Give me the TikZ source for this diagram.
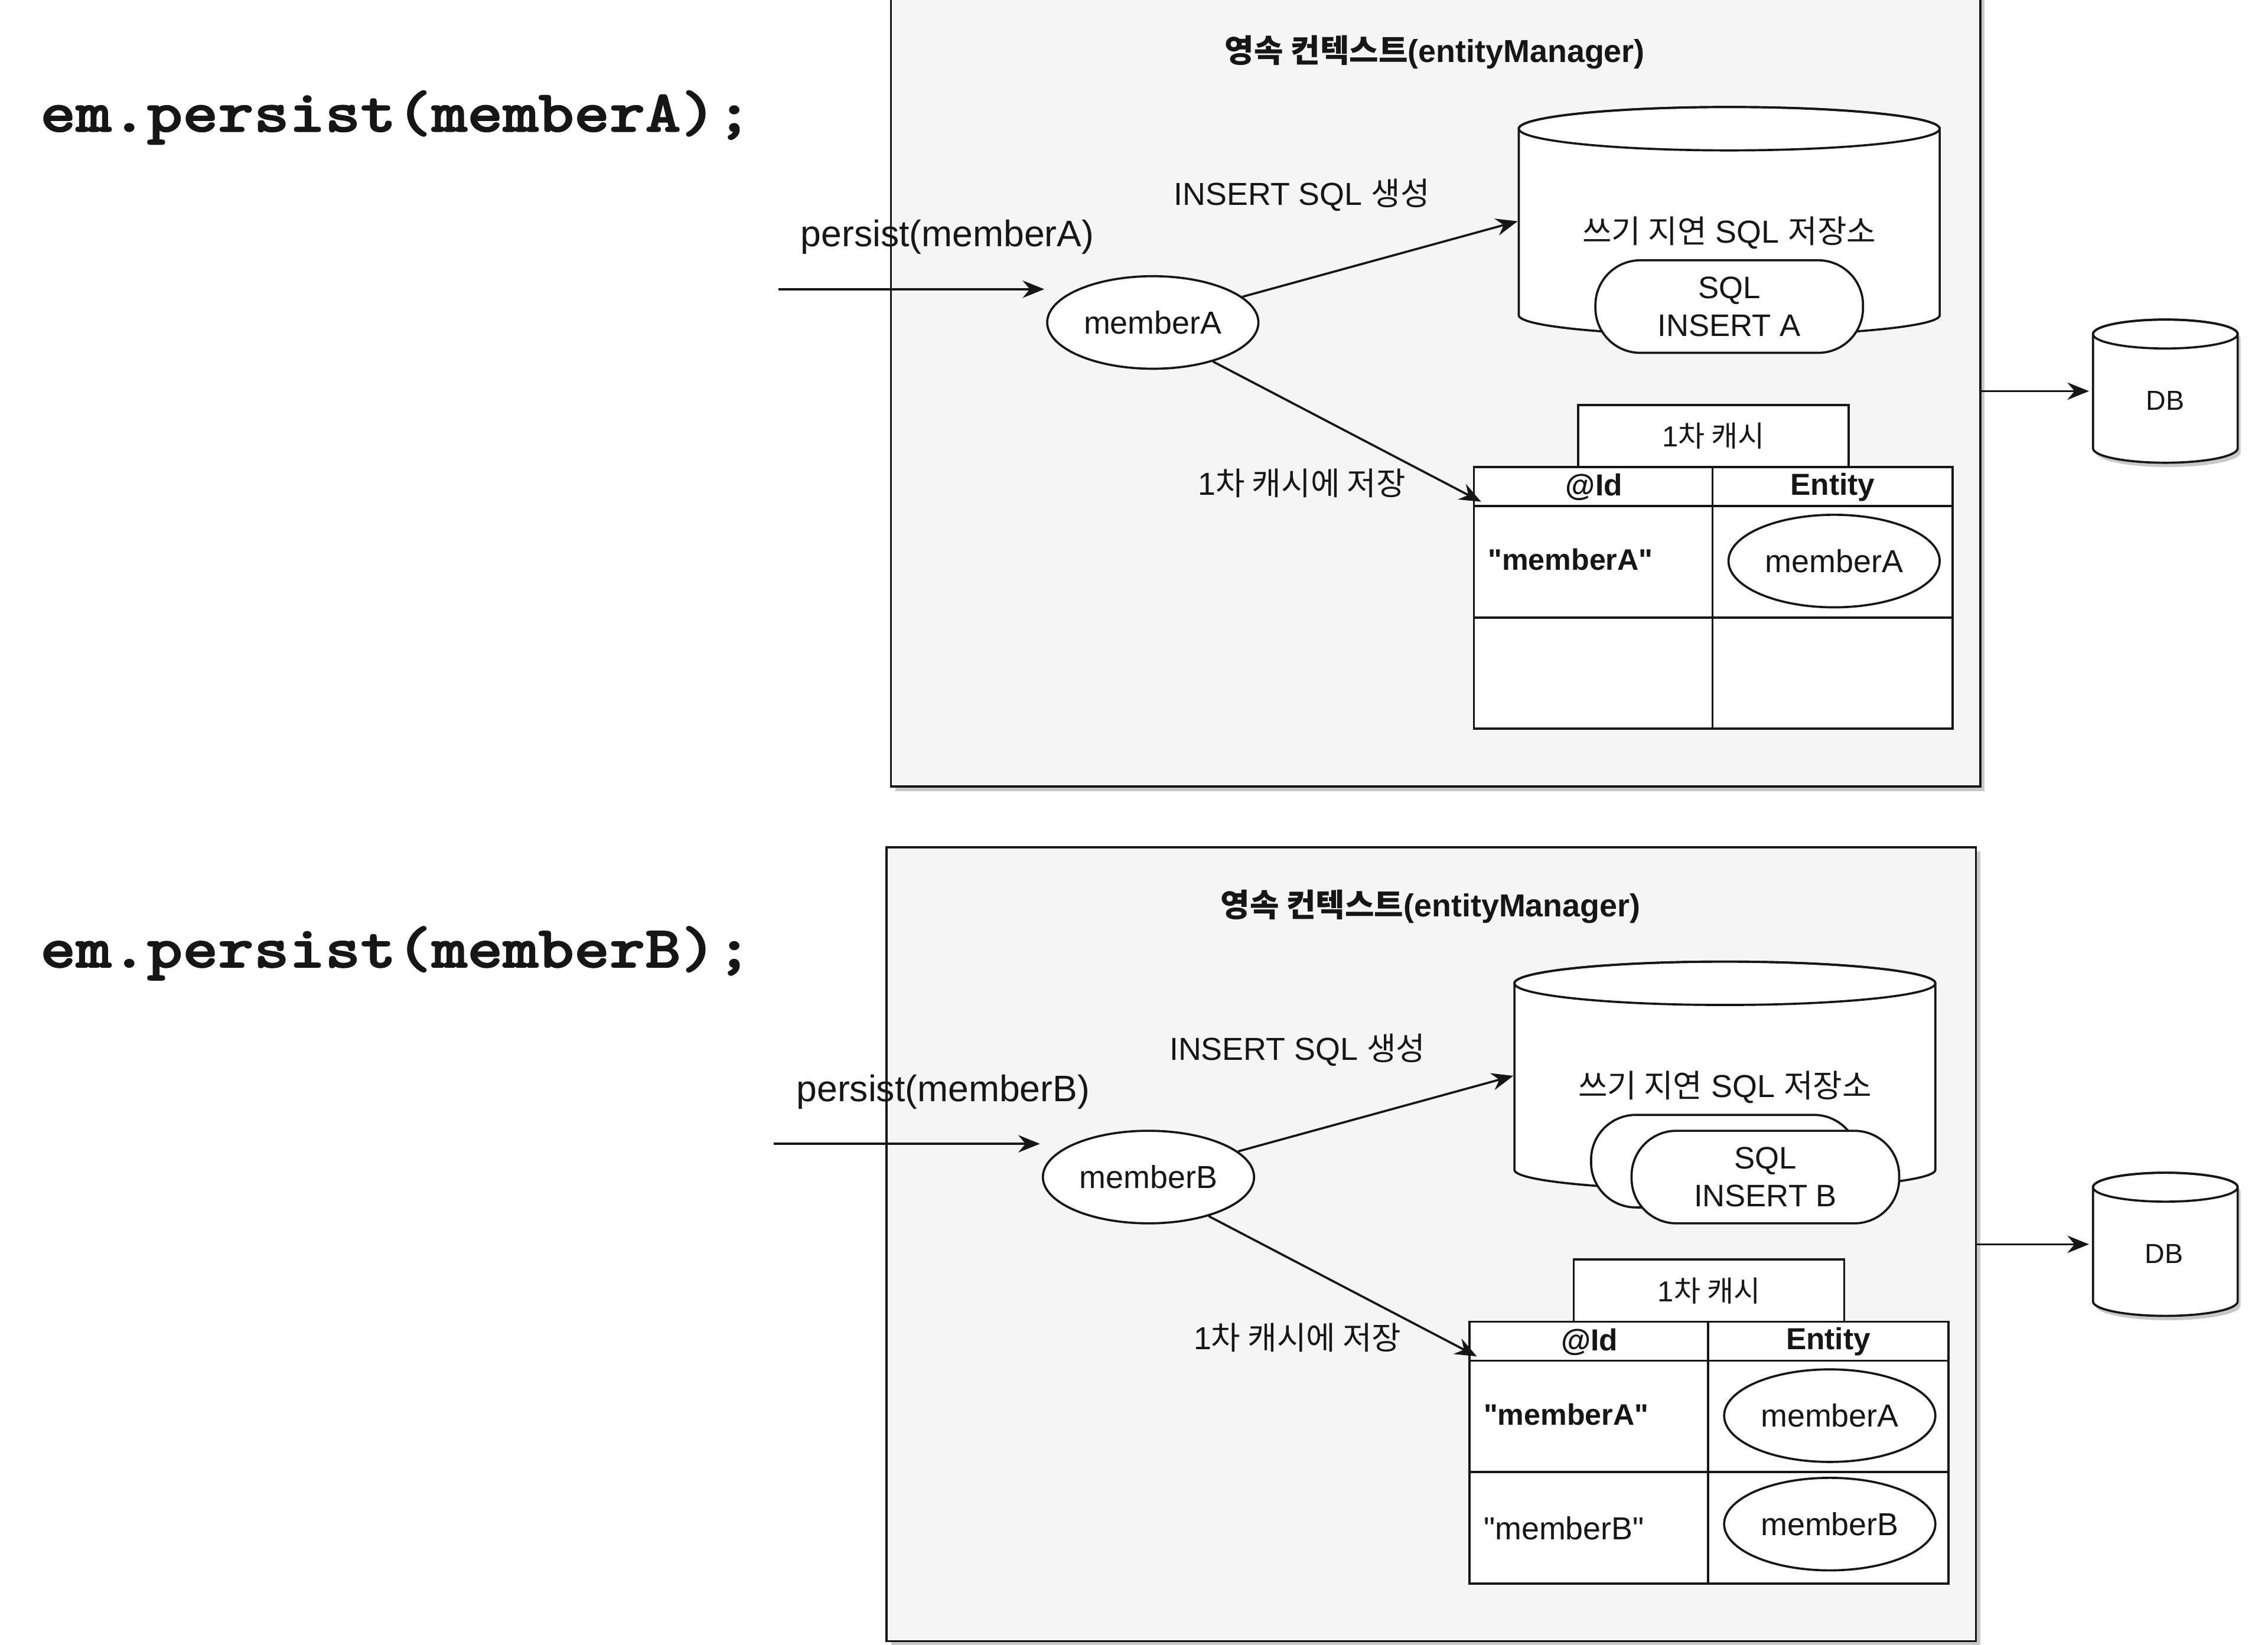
\documentclass[tikz,border=0pt]{standalone}
\usepackage{fontspec}
\setmainfont{Liberation Sans}[Ligatures=TeXOff]
\newfontfamily\ko{Noto Sans CJK KR}
\newfontfamily\codefont{lmmonolt10-bold.otf}[FakeBold=1.6]
\usetikzlibrary{arrows.meta,shapes.geometric}
\definecolor{panelbg}{RGB}{245,245,245}
\definecolor{ink}{RGB}{22,22,22}
\definecolor{shadowc}{RGB}{200,200,200}

\newcommand\panelbase[2]{%
  \fill[shadowc] (619,-2) rectangle (1372,547);
  \node[panel] (#1Box) at (992.5,269.5) {};
  \node[titlef] (#1Title) at (992,36) {{\ko 영속 컨텍스트}(entityManager)};
  \node[persistf] (#1PLab) at (655,164) {persist(member#2)};
  \coordinate (#1In) at (538,200);
  \coordinate (#1InEnd) at (722,200);
  \draw[arr] (#1In) -- (#1InEnd);
  \node[ell] (#1M) at (797,223) {member#2};
  \node[lab] (#1GenLab) at (900,135) {INSERT SQL {\ko 생성}};
  % write-behind store (cylinder)
  \draw[fill=white] (1050,89) -- (1050,218)
    arc[start angle=180,end angle=0,x radius=145.5,y radius=14] -- (1341,89)
    arc[start angle=0,end angle=-180,x radius=145.5,y radius=15] -- cycle;
  \draw (1195.5,89) ellipse[x radius=145.5,y radius=15];
  \node[inner sep=0pt,minimum width=291pt,minimum height=158pt] (#1WB) at (1195.5,153) {};
  \node[lab] (#1WBLab) at (1195.5,161) {{\ko 쓰기 지연} SQL {\ko 저장소}};
  \draw[arr] (#1M.16) -- (#1WB.west);
  % first-level cache
  \node[draw,fill=white,minimum width=187pt,minimum height=43pt,inner sep=0pt,
        font=\fontsize{20}{24}\selectfont] (#1CLab) at (1184.5,301.5) {1{\ko 차 캐시}};
  \node[draw,fill=white,minimum width=331pt,minimum height=181pt,inner sep=0pt] (#1Tab) at (1184.5,413.5) {};
  \draw (1019,350) -- (1350,350);
  \draw (1019,427) -- (1350,427);
  \draw (1184,323) -- (1184,504);
  \node[hdr] (#1HId) at (1102,337) {@Id};
  \node[hdr] (#1HEnt) at (1267,337) {Entity};
  \node[keyb,anchor=west] (#1KA) at (1028,387) {"memberA"};
  \node[ell] (#1EA) at (1268,388) {memberA};
  \coordinate (#1TabIn) at (1024,347);
  \draw[arr] (#1M.-33) -- (#1TabIn);
  \node[lab] (#1SaveLab) at (900,334) {1{\ko 차 캐시에 저장}};
}

\newcommand\dbcyl[3]{% name, top ellipse centre y, bottom ellipse centre y
  \fill[shadowc,shift={(2,3)}] (1447,#2) -- (1447,#3)
    arc[start angle=180,end angle=0,x radius=50,y radius=10] -- (1547,#2)
    arc[start angle=0,end angle=-180,x radius=50,y radius=10] -- cycle;
  \draw[fill=white] (1447,#2) -- (1447,#3)
    arc[start angle=180,end angle=0,x radius=50,y radius=10] -- (1547,#2)
    arc[start angle=0,end angle=-180,x radius=50,y radius=10] -- cycle;
  \draw (1497,#2) ellipse[x radius=50,y radius=10];
}

\begin{document}
\begin{tikzpicture}[x=1pt,y=-1pt,color=ink,line width=1.5pt,
  arr/.style={-{Stealth[length=15pt,width=12pt,inset=5pt]},line width=1.5pt},
  panel/.style={draw,fill=panelbg,minimum width=753pt,minimum height=549pt,inner sep=0pt},
  lab/.style={inner sep=0pt,font=\fontsize{22}{26}\selectfont},
  titlef/.style={inner sep=0pt,font=\bfseries\fontsize{22}{26}\selectfont},
  persistf/.style={inner sep=0pt,font=\fontsize{25.5}{30}\selectfont},
  ell/.style={ellipse,draw,fill=white,minimum width=146pt,minimum height=64pt,inner sep=0pt,
              font=\fontsize{22}{26}\selectfont},
  hdr/.style={inner sep=0pt,font=\bfseries\fontsize{21}{25}\selectfont},
  keyb/.style={inner sep=0pt,font=\bfseries\fontsize{20.5}{24}\selectfont},
  keyr/.style={inner sep=0pt,font=\fontsize{22}{26}\selectfont},
  stad/.style={draw,fill=white,rounded corners=31pt,minimum width=185pt,minimum height=64pt,
               inner sep=0pt,align=center,font=\fontsize{21.5}{26}\selectfont},
  codef/.style={anchor=base west,inner sep=0pt,xscale=1.143,transform shape,
                font=\codefont\fontsize{41}{46}\selectfont},
  dbf/.style={inner sep=0pt,font=\fontsize{19}{22}\selectfont}]
\useasboundingbox (0,0) rectangle (1568,1137.6);
\fill[white] (0,0) rectangle (1568,1137.6);

% code lines
\begin{scope}[shift={(27,91)}]
\node[codef] (codeA) at (0,0) {em.persist(memberA);};
\end{scope}
\begin{scope}[shift={(27,669)}]
\node[codef] (codeB) at (0,0) {em.persist(memberB);};
\end{scope}

% top panel
\panelbase{t}{A}
\node[stad] (tSQL) at (1195.5,212) {SQL\\INSERT A};

% bottom panel
\begin{scope}[shift={(-3,591)}]
\panelbase{b}{B}
\node[stad] (bSQL1) at (1195.5,212) {};
\node[stad] (bSQL2) at (1223.5,223) {SQL\\INSERT B};
\node[keyr,anchor=west] (bKB) at (1028,466) {"memberB"};
\node[ell] (bEB) at (1268,463) {memberB};
\end{scope}

% databases
\dbcyl{t}{231}{310}
\node[inner sep=0pt,minimum width=100pt,minimum height=99pt] (tDB) at (1497,270.5) {};
\node[dbf] (tDBLab) at (1497,277) {DB};
\draw[arr,shorten >=2pt] (tBox.east |- tDB.west) -- (tDB.west);

\dbcyl{b}{821}{900}
\node[inner sep=0pt,minimum width=100pt,minimum height=99pt] (bDB) at (1497,860.5) {};
\node[dbf] (bDBLab) at (1496,867) {DB};
\draw[arr,shorten >=2pt] (bBox.east |- bDB.west) -- (bDB.west);
\end{tikzpicture}
\end{document}
